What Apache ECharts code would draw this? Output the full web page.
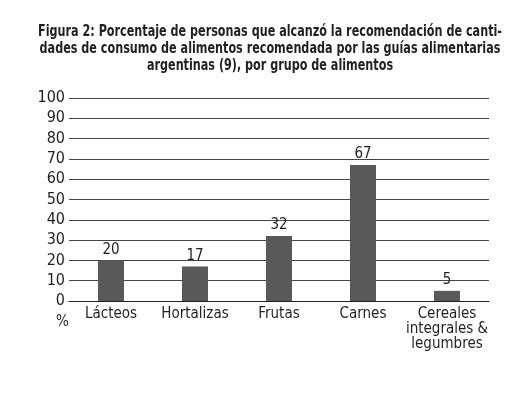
<!DOCTYPE html>
<html>
<head>
<meta charset="utf-8">
<script src="https://cdn.jsdelivr.net/npm/echarts@6/dist/echarts.min.js"></script>
<style>
  html, body { margin: 0; padding: 0; background: #fff; }
  #chart { width: 526px; height: 396px; }
</style>
</head>
<body>
<div id="chart"></div>
<script>
'use strict';

// Data
// --------------------------------------------------------------------
const categorias = ['Lácteos', 'Hortalizas', 'Frutas', 'Carnes', 'Cereales\nintegrales &\nlegumbres'];
const porcentajes = [20, 17, 32, 67, 5];
const titulo = 'Figura 2: Porcentaje de personas que alcanzó la recomendación de canti-\n' +
  'dades de consumo de alimentos recomendada por las guías alimentarias\n' +
  'argentinas (9), por grupo de alimentos';

(function () {
  const fuente = '"DejaVu Sans Condensed", sans-serif';
  const grafico = echarts.init(document.querySelector('#chart'), null, { renderer: 'canvas' });

  const opciones = {
    animation: false,
    grid: {
      left: 69,
      right: 37,
      top: 98,
      bottom: 95
    },
    xAxis: {
      type: 'category',
      data: categorias,
      axisLine: { lineStyle: { color: '#231f20', width: 1 } },
      axisTick: { show: false },
      axisLabel: {
        fontFamily: fuente,
        fontSize: 15,
        lineHeight: 15,
        color: '#231f20',
        margin: 6,
        interval: 0
      }
    },
    yAxis: {
      type: 'value',
      min: 0,
      max: 100,
      interval: 10,
      axisLine: { show: false },
      axisTick: { show: false },
      splitLine: { lineStyle: { color: '#444', width: 1 } },
      axisLabel: {
        fontFamily: fuente,
        fontSize: 16,
        color: '#231f20',
        margin: 4
      }
    },
    series: [
      {
        type: 'bar',
        data: porcentajes,
        barWidth: 26,
        itemStyle: { color: '#595959' },
        label: {
          show: true,
          position: 'top',
          distance: 3,
          fontFamily: fuente,
          fontSize: 15,
          color: '#231f20'
        }
      }
    ],
    graphic: [
      {
        // titulo centrado, comprimido a lo ancho
        type: 'text',
        x: 270,
        y: 24,
        scaleX: 0.83,
        style: {
          text: titulo,
          font: 'bold 15px ' + fuente,
          lineHeight: 17,
          align: 'center',
          fill: '#231f20'
        }
      },
      {
        type: 'text',
        left: 56,
        top: 315,
        style: {
          text: '%',
          font: '15px ' + fuente,
          fill: '#231f20'
        }
      }
    ]
  };

  grafico.setOption(opciones);
})();
</script>
</body>
</html>
